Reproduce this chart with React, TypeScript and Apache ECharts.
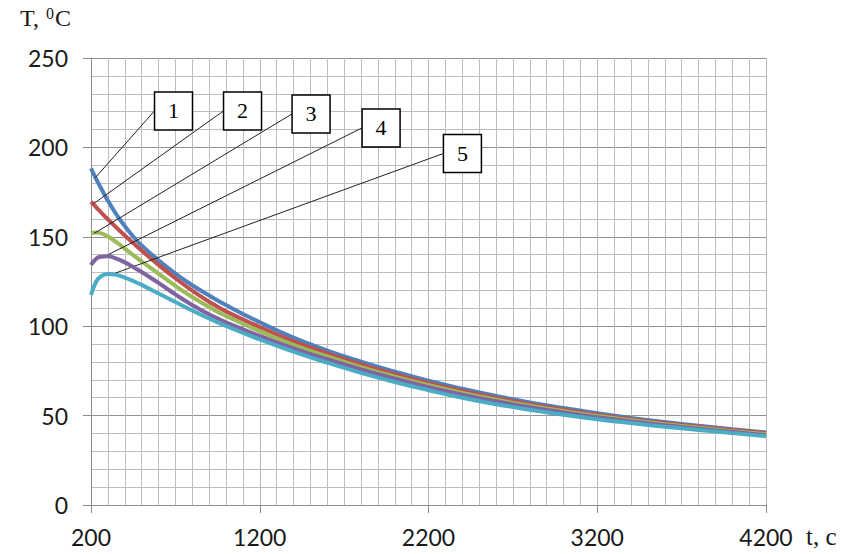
import React, { useEffect, useRef } from "react";
import * as echarts from "echarts";

const timeS = [200, 225, 250, 300, 350, 400, 450, 500, 600, 700, 800, 900, 1000, 1200, 1400, 1600, 1800, 2000, 2200, 2400, 2600, 2800, 3000, 3200, 3400, 3600, 3800, 4000, 4200];
const curve1 = [188.3, 183.4, 178.8, 170.2, 162.6, 156, 150.2, 145.2, 136.9, 129.4, 122.9, 117.2, 111.8, 102.2, 93.6, 86.4, 80.2, 74.6, 69.5, 65, 61, 57.4, 54.2, 51.3, 48.7, 46.4, 44.3, 42.4, 40.6];
const curve2 = [169.6, 167.1, 164.6, 159.8, 155.2, 150.8, 146.5, 142.3, 134.3, 126.8, 119.9, 113.7, 108.3, 99.5, 91.5, 84.8, 78.6, 73.1, 68.2, 63.8, 59.9, 56.4, 53.3, 50.5, 48, 45.8, 43.8, 41.9, 40.1];
const curve3 = [152, 152.4, 152.2, 150.2, 147, 143.4, 139.8, 136.2, 129.4, 122.6, 116.3, 110.7, 105.7, 97.2, 89.6, 83.1, 77.1, 71.8, 67, 62.7, 58.9, 55.5, 52.5, 49.8, 47.4, 45.2, 43.2, 41.3, 39.6];
const curve4 = [134.2, 137.2, 138.7, 139.1, 137.8, 135.7, 133.1, 130.3, 124.2, 117.8, 111.8, 106.6, 102.2, 94.6, 87.6, 81.5, 75.8, 70.6, 65.9, 61.7, 58, 54.7, 51.8, 49.1, 46.7, 44.6, 42.6, 40.8, 39];
const curve5 = [117.4, 123.8, 127.2, 129.2, 128.7, 127.2, 125.3, 123.1, 118.3, 113.5, 108.8, 104.3, 100.1, 92.6, 85.8, 79.6, 73.9, 68.8, 64.2, 60, 56.4, 53.3, 50.5, 48, 45.8, 43.8, 42, 40.2, 38.5];

const curves = [curve1, curve2, curve3, curve4, curve5];
const curveColors = ["#4F81BD", "#C0504D", "#9BBB59", "#8064A2", "#4BACC6"];

// callout labels (data coordinates)
const labelNames = ["1", "2", "3", "4", "5"];
const boxT = [689, 1098, 1504, 1919, 2401];
const boxV = [220.4, 220.4, 218.7, 210.9, 196.6];
const leaderFromT = [576, 985, 1391, 1806, 2288];
const leaderFromV = [220.4, 220.4, 218.7, 210.9, 196.6];
const leaderToT = [225, 215, 220, 280, 310];
const leaderToV = [183, 168.5, 152, 139, 128.5];

const xMin = 200;
const xMax = 4200;
const xStep = 1000;
const yMin = 0;
const yMax = 250;
const yStep = 50;

export default function App() {
  const ref = useRef<HTMLDivElement>(null);

  useEffect(() => {
    if (!ref.current) return;
    const chart = echarts.init(ref.current, undefined, { renderer: "svg" });

    const series = curves.map((c, i) => ({
      type: "line",
      name: labelNames[i],
      data: timeS.map((t, j) => [t, c[j]]),
      smooth: 0.5,
      showSymbol: false,
      symbol: "none",
      lineStyle: { color: curveColors[i], width: 4 },
      itemStyle: { color: curveColors[i] },
      z: 2 + i,
      markLine: {
        silent: true,
        symbol: ["none", "none"],
        label: { show: false },
        lineStyle: { color: "#222", width: 1, type: "solid" },
        data: [
          [
            { coord: [leaderFromT[i], leaderFromV[i]] },
            { coord: [leaderToT[i], leaderToV[i]] },
          ],
        ],
      },
      markPoint: {
        silent: true,
        symbol: "rect",
        symbolSize: [38, 38],
        itemStyle: { color: "#fff", borderColor: "#000", borderWidth: 1.5 },
        label: {
          show: true,
          formatter: labelNames[i],
          color: "#000",
          fontFamily: "Liberation Serif",
          fontSize: 22,
        },
        data: [{ coord: [boxT[i], boxV[i]] }],
      },
    }));

    chart.setOption({
      animation: false,
      backgroundColor: "#fff",
      grid: { left: 91, right: 97, top: 58, bottom: 49, containLabel: false },
      xAxis: {
        type: "value",
        min: xMin,
        max: xMax,
        interval: xStep,
        axisLine: { show: true, lineStyle: { color: "#8c8c8c", width: 1 } },
        axisTick: { show: true, length: 8, inside: false, lineStyle: { color: "#8c8c8c" } },
        axisLabel: {
          margin: 20,
          color: "#1a1a1a",
          fontFamily: "Lato",
          fontSize: 23,
          formatter: (v: number) => String(v),
        },
        splitLine: { show: true, lineStyle: { color: "#b8b8b8", width: 1 } },
        minorTick: { show: false, splitNumber: 10 },
        minorSplitLine: { show: true, lineStyle: { color: "#bdbdbd", width: 1 } },
      },
      yAxis: {
        type: "value",
        min: yMin,
        max: yMax,
        interval: yStep,
        axisLine: { show: true, lineStyle: { color: "#8c8c8c", width: 1 } },
        axisTick: { show: true, length: 8, inside: false, lineStyle: { color: "#8c8c8c" } },
        axisLabel: {
          margin: 23,
          color: "#1a1a1a",
          fontFamily: "Lato",
          fontSize: 23,
          formatter: (v: number) => String(v),
        },
        splitLine: { show: true, lineStyle: { color: "#8f8f8f", width: 1 } },
        minorTick: { show: false, splitNumber: 5 },
        minorSplitLine: { show: true, lineStyle: { color: "#bdbdbd", width: 1 } },
      },
      graphic: [
        {
          type: "text",
          left: 20,
          top: 5,
          style: {
            text: "T, {s|0}C",
            fontFamily: "Liberation Serif",
            fontSize: 24,
            fill: "#1a1a1a",
            rich: {
              s: {
                fontFamily: "Liberation Serif",
                fontSize: 16,
                verticalAlign: "top",
                padding: [0, 1, 9, 1],
                fill: "#1a1a1a",
              },
            },
          },
        },
        {
          type: "text",
          left: 806,
          top: 524,
          style: {
            text: "t, c",
            fontFamily: "Liberation Serif",
            fontSize: 25,
            fill: "#1a1a1a",
          },
        },
      ],
      series,
    });

    return () => {
      chart.dispose();
    };
  }, []);

  return (
    <div
      ref={ref}
      style={{ position: "fixed", left: 0, top: 0, width: 863, height: 554 }}
    />
  );
}
